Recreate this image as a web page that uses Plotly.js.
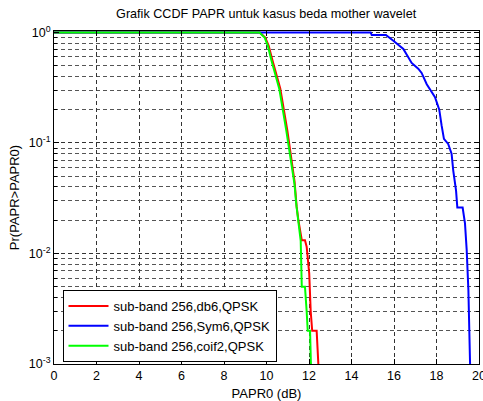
<!DOCTYPE html>
<html>
<head>
<meta charset="utf-8">
<script src="https://cdn.plot.ly/plotly-3.0.1.min.js"></script>
<style>html,body{margin:0;padding:0;background:#fff;}#chart{width:483px;height:401px;}</style>
</head>
<body>
<div id="chart"></div>
<script>
// Series: sub-band 256, db6, QPSK (red)
const db6X = [0, 9.69, 9.94, 10.10, 10.27, 10.43, 10.65, 10.98, 11.21, 11.32, 11.42, 11.50, 11.66, 11.81, 11.89, 12.01, 12.08, 12.15, 12.36, 12.44];
const db6Y = [1, 1, 0.90, 0.76, 0.57, 0.43, 0.31, 0.13, 0.065, 0.045, 0.0264, 0.020, 0.0132, 0.0132, 0.0115, 0.0066, 0.003, 0.002, 0.002, 0.001];
// Series: sub-band 256, Sym6, QPSK (blue)
const sym6X = [0, 14.9, 14.95, 15.62, 15.97, 16.44, 16.83, 17.14, 17.30, 17.54, 17.93, 18.13, 18.24, 18.35, 18.55, 18.71, 18.79, 18.92, 18.98, 19.23, 19.34, 19.42, 19.50, 19.54, 19.58];
const sym6Y = [1, 1, 0.95, 0.95, 0.84, 0.71, 0.53, 0.47, 0.43, 0.34, 0.26, 0.20, 0.144, 0.109, 0.098, 0.080, 0.056, 0.037, 0.026, 0.026, 0.0187, 0.0108, 0.0047, 0.0019, 0.001];
// Series: sub-band 256, coif2, QPSK (green)
const coif2X = [0, 9.67, 9.91, 10.06, 10.22, 10.38, 10.60, 10.93, 11.17, 11.32, 11.40, 11.48, 11.61, 11.66, 11.81, 11.89, 11.94, 12.05, 12.09];
const coif2Y = [1, 1, 0.90, 0.76, 0.57, 0.43, 0.31, 0.13, 0.065, 0.042, 0.028, 0.020, 0.013, 0.005, 0.005, 0.003, 0.002, 0.002, 0.001];

const seriesNames = ['sub-band 256,db6,QPSK', 'sub-band 256,Sym6,QPSK', 'sub-band 256,coif2,QPSK'];
const xTicks = [0, 2, 4, 6, 8, 10, 12, 14, 16, 18, 20];
const yTickVals = [1, 0.1, 0.01, 0.001];
const yTickText = ['10<sup>0</sup>', '10<sup>-1</sup>', '10<sup>-2</sup>', '10<sup>-3</sup>'];

const minorVals = [];
yTickVals.slice(1).forEach(d => { for (let k = 2; k <= 9; k++) minorVals.push(d * k); });

const fam = 'Liberation Sans, Arial, sans-serif';
const tickFont = {family: fam, size: 12.5, color: '#000'};
const labelFont = {family: fam, size: 13, color: '#000'};
const gridDash = '4px,3px';

const traces = [
  {x: db6X, y: db6Y, name: seriesNames[0], mode: 'lines', line: {color: '#ff0000', width: 2}},
  {x: sym6X, y: sym6Y, name: seriesNames[1], mode: 'lines', line: {color: '#0000ff', width: 2}},
  {x: coif2X, y: coif2Y, name: seriesNames[2], mode: 'lines', line: {color: '#00ff00', width: 2}}
];

const layout = {
  width: 483, height: 401,
  margin: {l: 54, r: 4, t: 31, b: 37},
  paper_bgcolor: '#fff', plot_bgcolor: '#fff',
  font: labelFont,
  showlegend: true,
  title: {text: 'Grafik CCDF PAPR untuk kasus beda mother wavelet', font: {family: fam, size: 12.6, color: '#000'},
          x: 0.551, xanchor: 'center', y: 0.967, yanchor: 'middle', yref: 'container'},
  xaxis: {
    range: [0, 20], tickmode: 'array', tickvals: xTicks, ticktext: xTicks.map(String),
    ticks: 'inside', ticklen: 5, tickcolor: '#000', mirror: 'ticks',
    showline: true, linecolor: '#000', linewidth: 1,
    showgrid: true, gridcolor: '#333', gridwidth: 1, griddash: gridDash,
    zeroline: false, tickfont: tickFont, ticklabeloverflow: 'allow',
    title: {text: 'PAPR0 (dB)', font: labelFont, standoff: 8}
  },
  yaxis: {
    type: 'log', range: [-3, 0.013], tickmode: 'array', tickvals: yTickVals, ticktext: yTickText,
    ticks: 'inside', ticklen: 5, tickcolor: '#000', mirror: 'ticks',
    showline: true, linecolor: '#000', linewidth: 1,
    showgrid: true, gridcolor: '#333', gridwidth: 1, griddash: gridDash,
    zeroline: false, tickfont: tickFont, ticklabeloverflow: 'allow',
    minor: {tickmode: 'array', tickvals: minorVals, ticks: 'inside', ticklen: 3, tickcolor: '#000',
            showgrid: true, gridcolor: '#555', gridwidth: 1, griddash: gridDash},
    title: {text: 'Pr(PAPR>PAPR0)', font: labelFont, standoff: 6}
  },
  legend: {x: 0.02, y: 0.006, xanchor: 'left', yanchor: 'bottom', bgcolor: '#fff',
           bordercolor: '#000', borderwidth: 1, font: labelFont, itemwidth: 40, tracegroupgap: 0}
};

Plotly.newPlot('chart', traces, layout, {displayModeBar: false, staticPlot: true});
</script>
</body>
</html>
